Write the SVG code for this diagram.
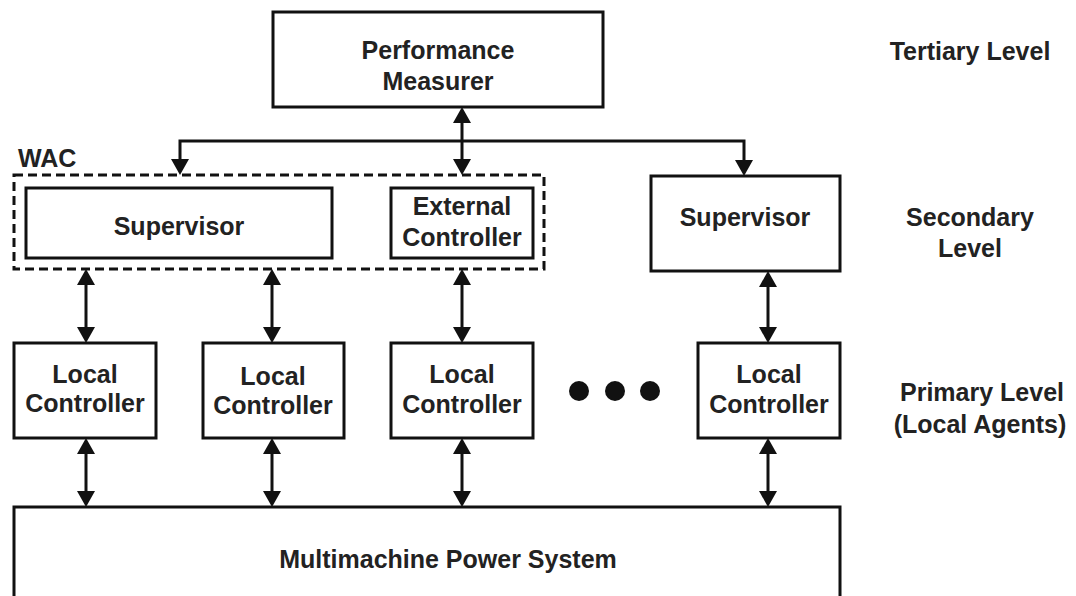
<svg xmlns="http://www.w3.org/2000/svg" width="1076" height="596" viewBox="0 0 1076 596">
<style>
.box{fill:#fff;stroke:#111;stroke-width:3}
.dash{fill:none;stroke:#111;stroke-width:3;stroke-dasharray:9 5}
.t{font-family:"Liberation Sans",Arial,sans-serif;font-weight:bold;font-size:25px;fill:#222;text-anchor:middle}
.tl{font-family:"Liberation Sans",Arial,sans-serif;font-weight:bold;font-size:25px;fill:#222}
.c{fill:none;stroke:#111;stroke-width:3}
.two{marker-start:url(#ah);marker-end:url(#ah)}
</style>
<defs>
<marker id="ah" viewBox="0 0 16 18" markerWidth="16" markerHeight="18" refX="11" refY="9" orient="auto-start-reverse" markerUnits="userSpaceOnUse">
<path d="M0,0 L16,9 L0,18 z" fill="#111"/>
</marker>
</defs>
<rect width="1076" height="596" fill="#fff"/>

<g id="connectors">
<path class="c" d="M180,170 V141 H744 V170"/>
<line class="c" x1="180" y1="160" x2="180" y2="170" marker-end="url(#ah)"/>
<line class="c" x1="744" y1="160" x2="744" y2="171" marker-end="url(#ah)"/>
<line class="c two" x1="462" y1="112" x2="462" y2="170"/>
<line class="c two" x1="86" y1="274" x2="86" y2="338"/>
<line class="c two" x1="272" y1="274" x2="272" y2="338"/>
<line class="c two" x1="462" y1="274" x2="462" y2="338"/>
<line class="c two" x1="768" y1="276" x2="768" y2="338"/>
<line class="c two" x1="86" y1="443" x2="86" y2="502"/>
<line class="c two" x1="272" y1="443" x2="272" y2="502"/>
<line class="c two" x1="462" y1="443" x2="462" y2="502"/>
<line class="c two" x1="768" y1="443" x2="768" y2="502"/>
</g>

<g id="performance-measurer">
<rect class="box" x="273" y="12" width="330" height="95"/>
<text class="t" x="438" y="59">Performance</text>
<text class="t" x="438" y="90">Measurer</text>
</g>

<g id="wac">
<rect class="dash" x="14" y="175" width="530" height="94"/>
<text class="tl" x="18" y="167">WAC</text>
</g>

<g id="supervisor-wac">
<rect class="box" x="26" y="188" width="306" height="70"/>
<text class="t" x="179" y="235">Supervisor</text>
</g>

<g id="external-controller">
<rect class="box" x="391" y="188" width="142" height="70"/>
<text class="t" x="462" y="215">External</text>
<text class="t" x="462" y="246">Controller</text>
</g>

<g id="supervisor-right">
<rect class="box" x="651" y="176" width="189" height="95"/>
<text class="t" x="745" y="226">Supervisor</text>
</g>

<g id="local-controller-1">
<rect class="box" x="14" y="343" width="142" height="95"/>
<text class="t" x="85" y="383">Local</text>
<text class="t" x="85" y="412">Controller</text>
</g>
<g id="local-controller-2">
<rect class="box" x="203" y="343" width="141" height="95"/>
<text class="t" x="273" y="385">Local</text>
<text class="t" x="273" y="414">Controller</text>
</g>
<g id="local-controller-3">
<rect class="box" x="391" y="343" width="142" height="95"/>
<text class="t" x="462" y="383">Local</text>
<text class="t" x="462" y="413">Controller</text>
</g>
<g id="ellipsis">
<circle cx="579" cy="391" r="10" fill="#111"/>
<circle cx="615" cy="391" r="10" fill="#111"/>
<circle cx="650" cy="391" r="10" fill="#111"/>
</g>
<g id="local-controller-4">
<rect class="box" x="698" y="343" width="142" height="95"/>
<text class="t" x="769" y="383">Local</text>
<text class="t" x="769" y="413">Controller</text>
</g>

<g id="power-system">
<rect class="box" x="14" y="507" width="826" height="110"/>
<text class="t" x="448" y="568">Multimachine Power System</text>
</g>

<g id="level-labels">
<text class="t" x="970" y="60">Tertiary Level</text>
<text class="t" x="970" y="226">Secondary</text>
<text class="t" x="970" y="257">Level</text>
<text class="t" x="982" y="401">Primary Level</text>
<text class="t" x="980" y="433">(Local Agents)</text>
</g>
</svg>
